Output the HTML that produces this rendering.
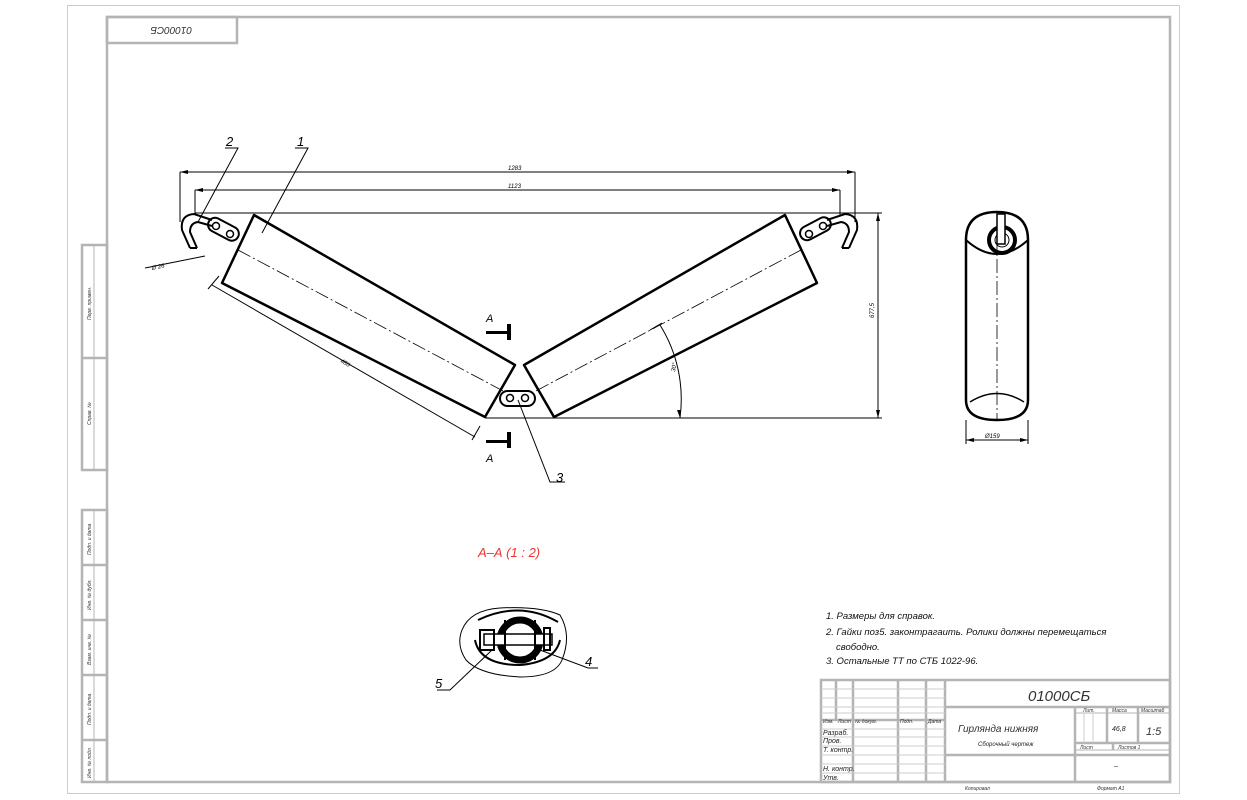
<!DOCTYPE html>
<html><head><meta charset="utf-8"><style>
body{margin:0;background:#fff}
svg{display:block}
text{font-family:"Liberation Sans","DejaVu Sans",sans-serif;font-style:italic}
</style></head><body>
<svg width="1247" height="800" viewBox="0 0 1247 800" xmlns="http://www.w3.org/2000/svg">
<rect x="67.5" y="5.5" width="1112" height="788" fill="none" stroke="#ccc" stroke-width="1"/>
<g fill="none" stroke="#b4b4b4" stroke-width="2.5">
<rect x="107" y="17" width="1063" height="765"/>
<rect x="107" y="17" width="130" height="26"/>
<rect x="82" y="245" width="25" height="225"/>
<line x1="82" y1="358" x2="107" y2="358"/>
<line x1="94" y1="245" x2="94" y2="470" stroke-width="1"/>
<rect x="82" y="510" width="25" height="272"/>
<line x1="94" y1="510" x2="94" y2="782" stroke-width="1"/>
<line x1="82" y1="565" x2="107" y2="565"/><line x1="82" y1="620" x2="107" y2="620"/>
<line x1="82" y1="675" x2="107" y2="675"/><line x1="82" y1="740" x2="107" y2="740"/>
<!-- title block -->
<rect x="821" y="680" width="349" height="102"/>
<line x1="945" y1="680" x2="945" y2="782"/>
<line x1="945" y1="707" x2="1170" y2="707"/>
<line x1="945" y1="755" x2="1170" y2="755"/>
<line x1="1075" y1="707" x2="1075" y2="782"/>
<line x1="821" y1="720" x2="945" y2="720"/>
<line x1="836" y1="680" x2="836" y2="720"/><line x1="853" y1="680" x2="853" y2="782"/>
<line x1="898" y1="680" x2="898" y2="782"/><line x1="926" y1="680" x2="926" y2="782"/>
<line x1="1075" y1="713" x2="1170" y2="713" stroke-width="1"/>
<line x1="1107" y1="707" x2="1107" y2="743"/><line x1="1138" y1="707" x2="1138" y2="743"/>
<line x1="1075" y1="743" x2="1170" y2="743"/>
<line x1="1113" y1="743" x2="1113" y2="750"/>
<line x1="1075" y1="750" x2="1170" y2="750" stroke-width="1"/>
</g>
<g stroke="#ccc" stroke-width="1">
<line x1="821" y1="689" x2="945" y2="689"/><line x1="821" y1="698" x2="945" y2="698"/><line x1="821" y1="707" x2="945" y2="707"/><line x1="821" y1="713" x2="945" y2="713"/>
<line x1="821" y1="729" x2="945" y2="729"/><line x1="821" y1="737" x2="945" y2="737"/><line x1="821" y1="746" x2="945" y2="746"/><line x1="821" y1="755" x2="945" y2="755"/><line x1="821" y1="764" x2="945" y2="764"/><line x1="821" y1="773" x2="945" y2="773"/>
<line x1="1084" y1="713" x2="1084" y2="743"/><line x1="1093" y1="713" x2="1093" y2="743"/>
</g>
<g fill="#333" font-size="5">
<text x="823" y="723">Изм.</text><text x="838" y="723">Лист</text><text x="855" y="723">№ докум.</text><text x="900" y="723">Подп.</text><text x="928" y="723">Дата</text>
<text x="1083" y="712">Лит.</text><text x="1112" y="712">Масса</text><text x="1141" y="712">Масштаб</text>
<text x="1080" y="749">Лист</text><text x="1118" y="749">Листов 1</text>
<text x="965" y="790">Копировал</text><text x="1097" y="790">Формат A1</text>
</g>
<g fill="#222" font-size="7">
<text x="823" y="735">Разраб.</text><text x="823" y="743">Пров.</text><text x="823" y="752">Т. контр.</text>
<text x="823" y="771">Н. контр.</text><text x="823" y="780">Утв.</text>
<text x="1112" y="731">46,8</text>
<text x="1114" y="768">–</text>
<text x="978" y="746" font-size="6">Сборочный чертеж</text>
</g>
<text x="1028" y="701" font-size="15" fill="#333">01000СБ</text>
<text x="958" y="732" font-size="10" fill="#333">Гирлянда нижняя</text>
<text x="1146" y="735" font-size="11" fill="#333">1:5</text>
<text x="152" y="35" font-size="10" fill="#333" transform="rotate(180 172 31)">01000СБ</text>
<g font-size="5" fill="#333">
<text transform="translate(91,320) rotate(-90)">Перв. примен.</text>
<text transform="translate(91,425) rotate(-90)">Справ. №</text>
<text transform="translate(91,555) rotate(-90)">Подп. и дата</text>
<text transform="translate(91,610) rotate(-90)">Инв. № дубл.</text>
<text transform="translate(91,665) rotate(-90)">Взам. инв. №</text>
<text transform="translate(91,725) rotate(-90)">Подп. и дата</text>
<text transform="translate(91,778) rotate(-90)">Инв. № подл.</text>
</g>

<!-- drawing -->
<g fill="none" stroke="#000" stroke-width="1">
<line x1="180" y1="172" x2="855" y2="172"/><line x1="195" y1="190" x2="840" y2="190"/>
<line x1="180" y1="172" x2="180" y2="222"/><line x1="855" y1="172" x2="855" y2="222"/>
<line x1="195" y1="190" x2="195" y2="215"/><line x1="840" y1="190" x2="840" y2="215"/>
<line x1="195" y1="213" x2="882" y2="213"/>
<line x1="485" y1="418" x2="882" y2="418"/>
<line x1="878" y1="213" x2="878" y2="418"/>
<line x1="212" y1="285" x2="475" y2="437"/>
<line x1="219" y1="276" x2="208" y2="289"/><line x1="480" y1="426" x2="472" y2="440"/>
<path d="M660 325 A140 140 0 0 1 680 418"/>
<line x1="650" y1="330" x2="662" y2="323"/>
<line x1="966" y1="420" x2="966" y2="444"/><line x1="1028" y1="420" x2="1028" y2="444"/>
<line x1="966" y1="440" x2="1028" y2="440"/>
<line x1="145" y1="268" x2="205" y2="256"/>
<!-- leaders -->
<polyline points="225,148 238,148 198,222"/>
<polyline points="295,148 308,148 262,233"/>
<polyline points="518,400 550,482 565,482"/>
<polyline points="437,690 450,690 492,650"/>
<polyline points="598,668 588,668 540,650"/>
</g>
<g fill="#000" font-size="6">
<text x="508" y="170">1283</text><text x="508" y="188">1123</text>
<text x="152" y="270" transform="rotate(-12 152 270)">Ø 26</text>
<text x="340" y="362" transform="rotate(30 340 362)">480</text>
<text transform="translate(874,318) rotate(-90)">677,5</text>
<text transform="translate(675,372) rotate(-80)">30°</text>
<text x="985" y="438">Ø159</text>
</g>
<!-- arrows -->
<g fill="#000">
<path d="M180 172 l8 -2 v4z"/><path d="M855 172 l-8 -2 v4z"/>
<path d="M195 190 l8 -2 v4z"/><path d="M840 190 l-8 -2 v4z"/>
<path d="M878 213 l-2 8 h4z"/><path d="M878 418 l-2 -8 h4z"/>
<path d="M966 440 l8 -2 v4z"/><path d="M1028 440 l-8 -2 v4z"/>
<path d="M680 418 l-3 -8 l4 0z"/>
</g>
<!-- rollers -->
<g fill="none" stroke="#000" stroke-width="2.5" stroke-linejoin="round">
<polygon points="254,215 515,365 485,417 222,283"/>
<polygon points="785,215 524,365 554,417 817,283"/>
</g>
<g stroke="#000" stroke-width="0.8" stroke-dasharray="14,3,2,3">
<line x1="238" y1="250" x2="505" y2="392"/>
<line x1="801" y1="250" x2="534" y2="392"/>
<line x1="997" y1="215" x2="997" y2="420"/>
</g>
<!-- hooks -->
<g fill="none" stroke="#000" stroke-width="2">
<path d="M190 248 L182 230 Q180 215 194 214 L212 220"/>
<path d="M197 248 L190 232 Q190 223 198 222 L212 226"/>
<line x1="190" y1="248" x2="197" y2="248"/>
<path d="M849 248 L857 230 Q859 215 845 214 L827 220"/>
<path d="M842 248 L849 232 Q849 223 841 222 L827 226"/>
<line x1="849" y1="248" x2="842" y2="248"/>
<rect x="207" y="222" width="33" height="14" rx="7" transform="rotate(28 223 229)"/>
<rect x="799" y="222" width="33" height="14" rx="7" transform="rotate(-28 815 229)"/>
<rect x="500" y="391" width="35" height="15" rx="7.5"/>
</g>
<g fill="none" stroke="#000" stroke-width="1.5">
<circle cx="216" cy="226" r="3.5"/><circle cx="230" cy="234" r="3.5"/>
<circle cx="823" cy="226" r="3.5"/><circle cx="809" cy="234" r="3.5"/>
<circle cx="510" cy="398" r="3.5"/><circle cx="525" cy="398" r="3.5"/>
</g>
<!-- section markers -->
<g fill="#000">
<rect x="486" y="331" width="22" height="3"/><rect x="507" y="324" width="4" height="16"/>
<rect x="486" y="440" width="22" height="3"/><rect x="507" y="432" width="4" height="16"/>
</g>
<text x="486" y="322" font-size="11">A</text><text x="486" y="462" font-size="11">A</text>
<text x="525" y="147" font-size="0"> </text>
<g font-size="13" fill="#000"><text x="226" y="146">2</text><text x="297" y="146">1</text><text x="556" y="482">3</text><text x="435" y="688">5</text><text x="585" y="666">4</text></g>
<!-- side view -->
<g fill="none" stroke="#000" stroke-width="2.5">
<path d="M966 240 Q966 212 997 212 Q1028 212 1028 240 L1028 400 Q1028 420 997 420 Q966 420 966 400 Z"/>
<line x1="966" y1="240" x2="1028" y2="240" stroke-width="0"/>
</g>
<g fill="none" stroke="#000">
<path d="M966 240 Q997 268 1028 240" stroke-width="2"/>
<circle cx="1002" cy="240" r="13" stroke-width="4"/>
<circle cx="1002" cy="240" r="7" stroke-width="1"/>
<rect x="997" y="214" width="8" height="30" fill="#fff" stroke-width="1.5"/>
<path d="M970 402 Q997 385 1024 402" stroke-width="1.5"/>
</g>
<!-- section A-A -->
<text x="478" y="557" font-size="13" fill="#e33">А–А   (1 : 2)</text>
<g fill="none" stroke="#000">
<path d="M462 630 Q470 610 500 608 Q540 606 560 615 Q572 635 562 660 Q555 677 520 677 Q480 675 466 660 Q456 645 462 630Z" stroke-width="1"/>
<path d="M478 620 Q520 600 558 622" stroke-width="2"/>
<path d="M475 640 Q480 665 520 665 Q555 662 560 640" stroke-width="2"/>
<circle cx="520" cy="640" r="20" stroke-width="7"/>
<rect x="484" y="634" width="68" height="11" fill="#fff" stroke-width="1.5"/>
<rect x="480" y="630" width="14" height="20" stroke-width="2"/>
<rect x="544" y="628" width="6" height="22" stroke-width="2"/>
<line x1="505" y1="620" x2="505" y2="660" stroke-width="2"/>
<line x1="535" y1="620" x2="535" y2="660" stroke-width="2"/>
</g>
<!-- notes -->
<g font-size="9.5" fill="#111">
<text x="826" y="619">1. Размеры для справок.</text>
<text x="826" y="635">2. Гайки поз5. законтрагаить. Ролики должны перемещаться</text>
<text x="836" y="650">свободно.</text>
<text x="826" y="664">3. Остальные ТТ по СТБ 1022-96.</text>
</g>
</svg>
</body></html>
